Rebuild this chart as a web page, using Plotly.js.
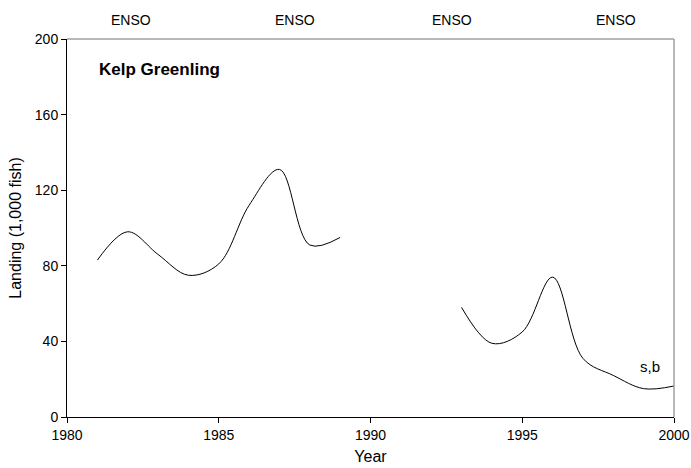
<!DOCTYPE html>
<html>
<head>
<meta charset="utf-8">
<script src="https://cdn.plot.ly/plotly-3.0.1.min.js"></script>
<style>html,body{margin:0;padding:0;background:#fff;}#chart{width:691px;height:468px;}</style>
</head>
<body>
<div id="chart"></div>
<script>
const years = [1981,1982,1983,1984,1985,1986,1987,1988,1989,1990,1991,1992,1993,1994,1995,1996,1997,1998,1999,2000];
const landing = [83,98,86,75,81,112,131,91,95,null,null,null,58,39,45,74,31,22,15,16.4];
const ensoYears = [1982.1,1987.5,1992.7,1998.1];
const ensoLabel = "ENSO";
const yTicks = [0,40,80,120,160,200];
const xTicks = [1980,1985,1990,1995,2000];

const fontFam = "Liberation Sans, Arial, sans-serif";
const annotations = ensoYears.map(x => ({
  x: x, xref: 'x', y: (417 - 20) / 378, yref: 'paper', yanchor: 'middle',
  text: ensoLabel, showarrow: false, font: {family: fontFam, size: 14, color: '#000'}
}));
annotations.push({
  x: 0.049, xref: 'paper', xanchor: 'left', y: (417 - 70) / 378, yref: 'paper', yanchor: 'middle',
  text: '<b>Kelp Greenling</b>', showarrow: false, font: {family: fontFam, size: 17, color: '#000'}
});
annotations.push({
  x: 1999.2, xref: 'x', y: 26.5, yref: 'y', text: 's,b', showarrow: false,
  font: {family: fontFam, size: 15, color: '#000'}
});

Plotly.newPlot('chart', [{
  x: years, y: landing, type: 'scatter', mode: 'lines',
  line: {color: '#000', width: 1, shape: 'spline', smoothing: 1},
  connectgaps: false, hoverinfo: 'skip'
}], {
  width: 691, height: 468,
  margin: {l: 67, r: 17, t: 39, b: 51},
  paper_bgcolor: '#fff', plot_bgcolor: '#fff',
  showlegend: false,
  font: {family: fontFam, size: 14, color: '#000'},
  xaxis: {
    range: [1980, 2000], tickvals: xTicks, ticktext: xTicks.map(String),
    showgrid: false, zeroline: false, showline: true, linecolor: '#000', linewidth: 1,
    ticks: 'outside', ticklen: 5, tickcolor: '#000', tickfont: {size: 14},
    title: {text: 'Year', font: {size: 16}, standoff: 9}
  },
  yaxis: {
    range: [0, 200], tickvals: yTicks, ticktext: yTicks.map(String),
    showgrid: false, zeroline: false, showline: true, linecolor: '#000', linewidth: 1,
    ticks: 'outside', ticklen: 5, tickcolor: '#000', tickfont: {size: 14},
    title: {text: 'Landing (1,000 fish)', font: {size: 16}, standoff: 9}
  },
  shapes: [
    {type: 'line', xref: 'paper', yref: 'paper', x0: 0, x1: 1, y0: 1, y1: 1, line: {color: '#a0a0a0', width: 1.5}},
    {type: 'line', xref: 'paper', yref: 'paper', x0: 1, x1: 1, y0: 0, y1: 1, line: {color: '#a0a0a0', width: 1.5}}
  ],
  annotations: annotations
}, {displayModeBar: false, staticPlot: true});
</script>
</body>
</html>
